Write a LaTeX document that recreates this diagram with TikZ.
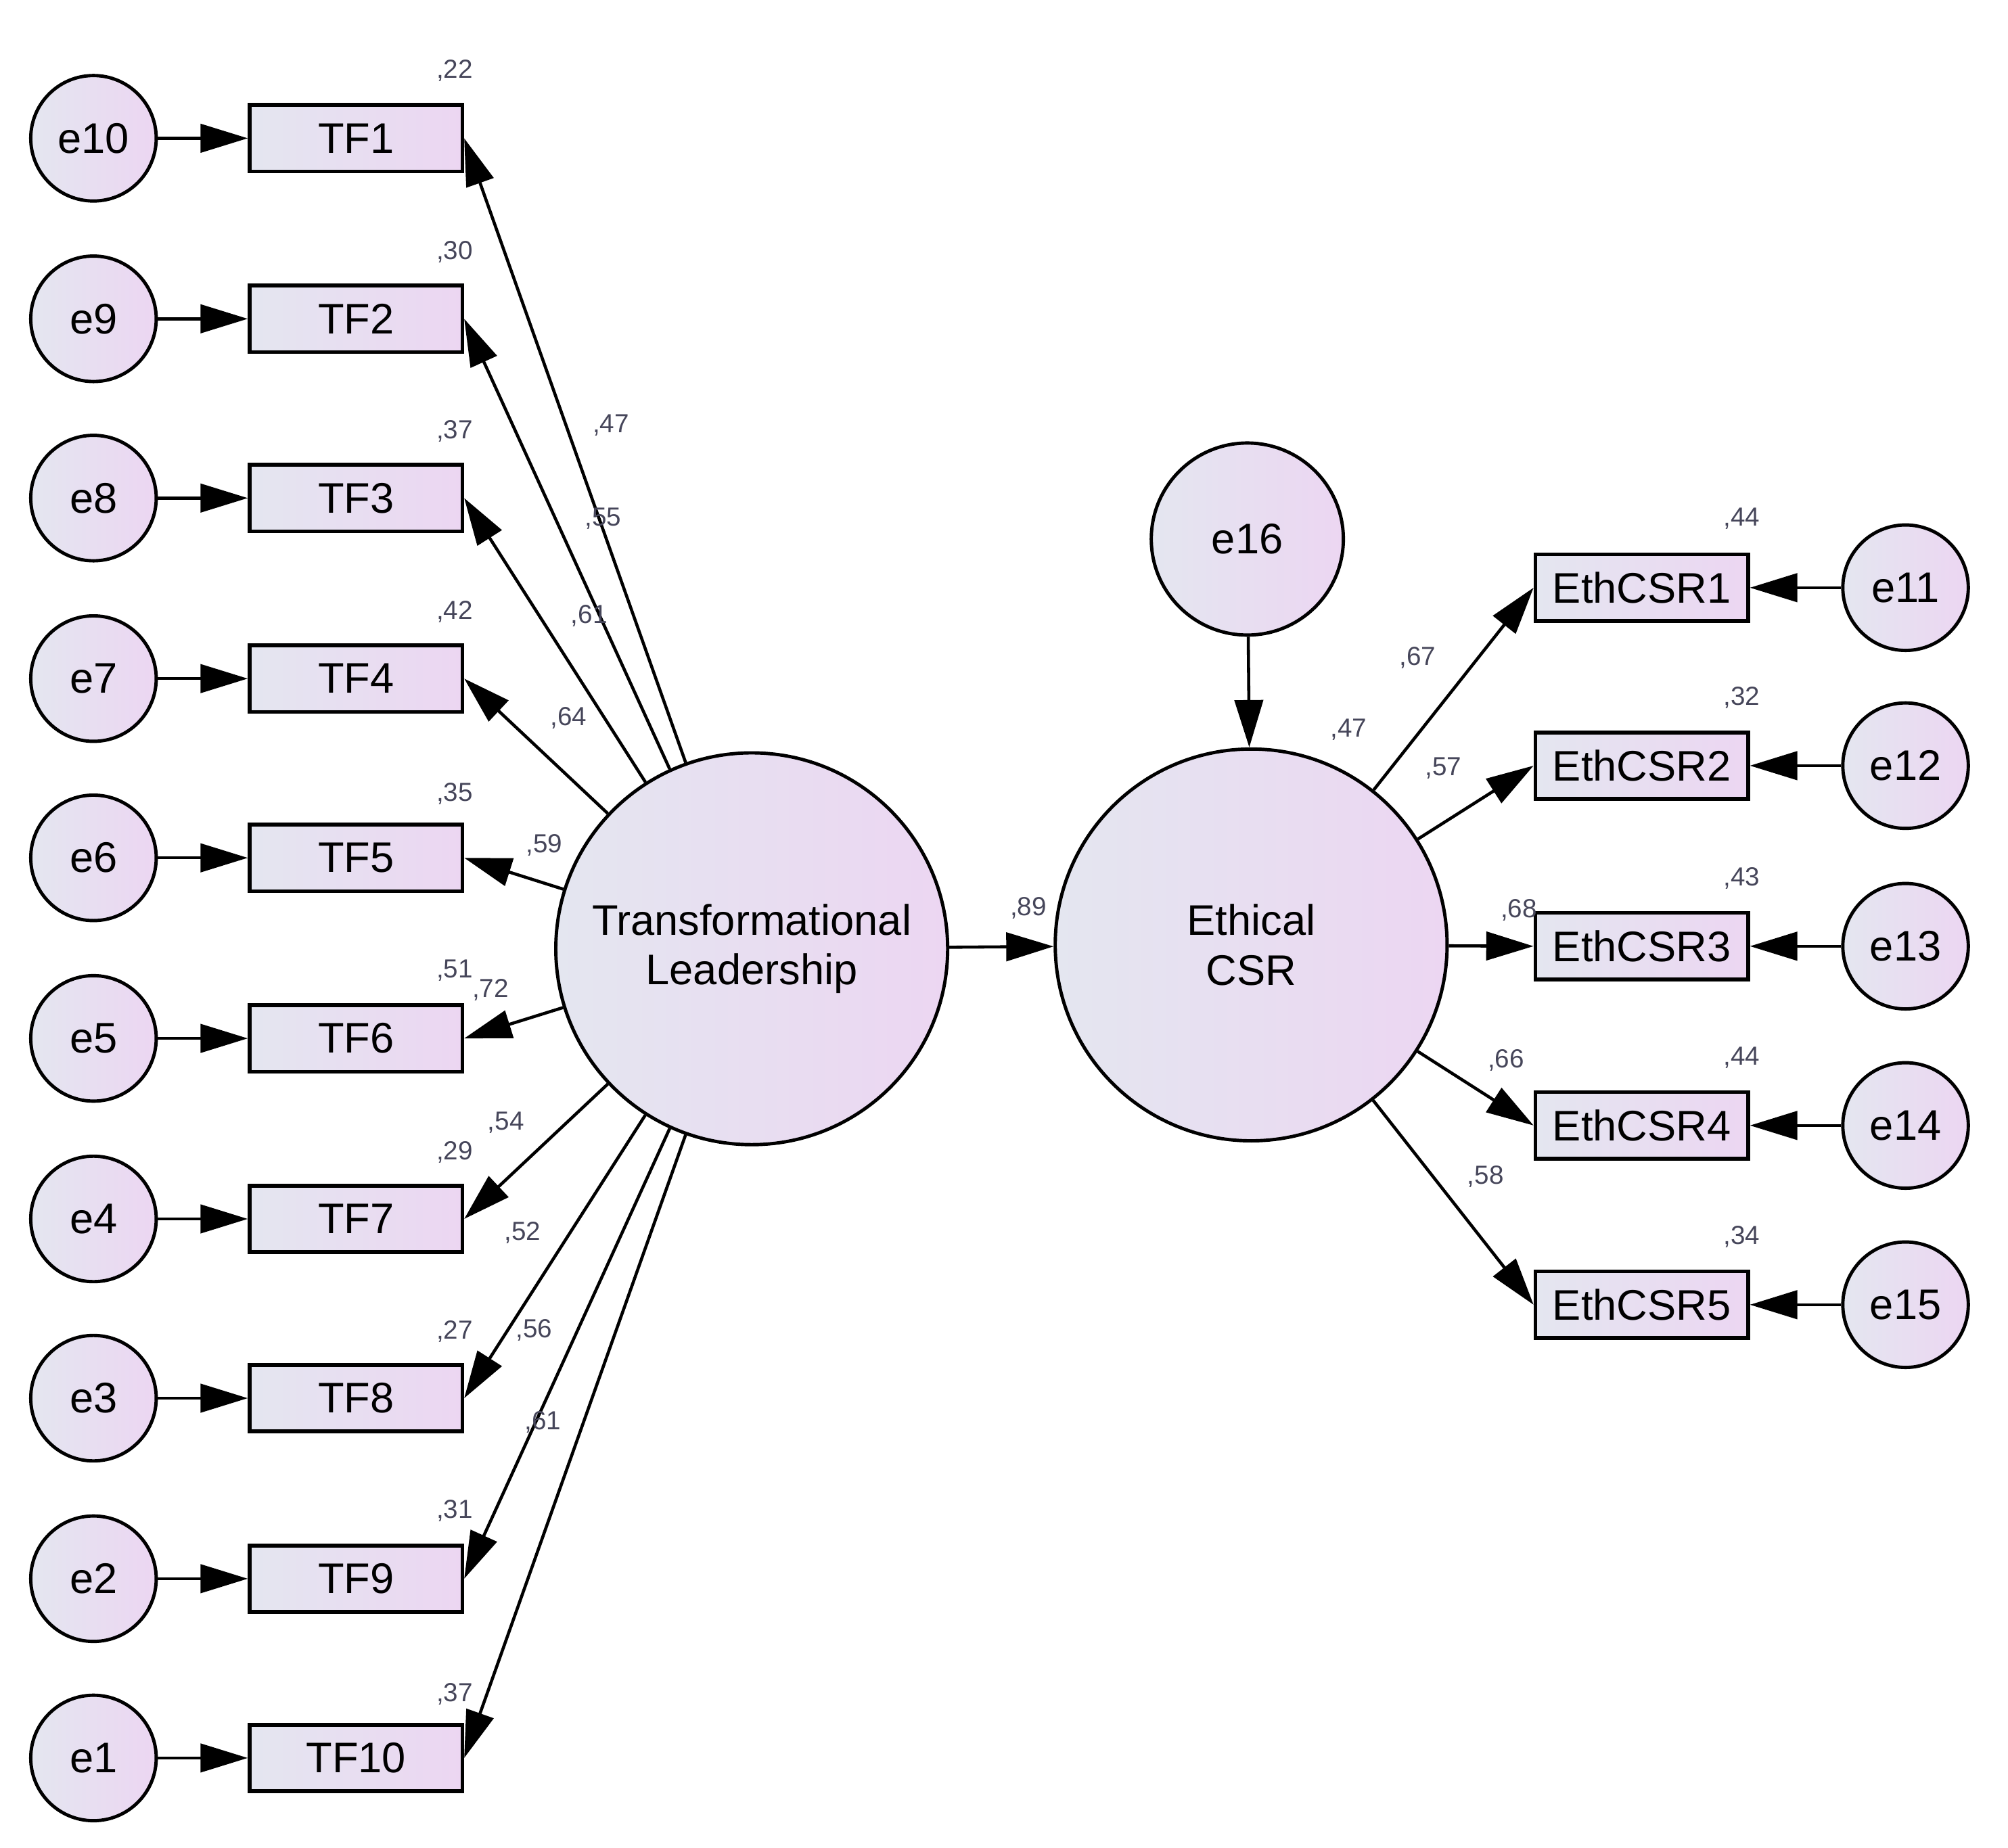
\documentclass[tikz,border=0pt]{standalone}
\usepackage{fontspec}
\setmainfont{Liberation Sans}
\usetikzlibrary{arrows.meta}
\definecolor{gl}{RGB}{228,230,240}
\definecolor{gr}{RGB}{236,214,242}
\definecolor{lab}{RGB}{70,70,90}
\begin{document}
\begin{tikzpicture}[x=0.01893cm,y=-0.01893cm,
  lat/.style={circle,draw,line width=1.4pt,left color=gl,right color=gr,inner sep=0pt,align=center,font=\fontsize{18}{21}\selectfont},
  err/.style={circle,draw,line width=1.4pt,left color=gl,right color=gr,minimum size=98*0.01893cm,inner sep=0pt,font=\fontsize{18}{21}\selectfont},
  box/.style={draw,line width=1.6pt,left color=gl,right color=gr,minimum width=166*0.01893cm,minimum height=52*0.01893cm,inner sep=0pt,font=\fontsize{18}{21}\selectfont},
  arr/.style={-{Triangle[length=0.7cm,width=0.42cm]},line width=1.3pt},
  lb/.style={font=\fontsize{11}{12}\selectfont,text=lab,inner sep=0pt}]
\useasboundingbox (0,0) rectangle (1568,1443);
\node[lat,minimum size=306*0.01893cm] (TL) at (587,741) {Transformational\\Leadership};
\node[lat,minimum size=306*0.01893cm] (EC) at (977,738) {Ethical\\CSR};
\node[err,minimum size=150*0.01893cm] (e16) at (974,421) {e16};
\foreach \i/\y/\e/\r/\rv/\l/\lx/\ly in {1/108/10/55/22/47/477/332, 2/249/9/197/30/55/471/405, 3/389/8/337/37/61/460/481, 4/530/7/478/42/64/444/561, 5/670/6/620/35/59/425/660, 6/811/5/758/51/72/383/773, 7/952/4/900/29/54/395/877, 8/1092/3/1040/27/52/408/963, 9/1233/2/1180/31/56/417/1039, 10/1373/1/1323/37/61/424/1111}{
  \node[err] (e\e) at (73,\y) {e\e};
  \node[box] (TF\i) at (278,\y) {TF\i};
  \draw[arr] (e\e) -- (TF\i.west);
  \draw[arr] (TL) -- (TF\i.east);
  \node[lb] (r\i) at (355,\r) {,\rv};
  \node[lb] (l\i) at (\lx,\ly) {,\l};
}
\foreach \i/\y/\e/\r/\rv/\l/\lx/\ly in {1/459/11/405/44/67/1107/514, 2/598/12/545/32/57/1127/600, 3/739/13/686/43/68/1186/711, 4/879/14/826/44/66/1176/828, 5/1019/15/966/34/58/1160/919}{
  \node[err] (e\e) at (1488,\y) {e\e};
  \node[box] (EC\i) at (1282,\y) {EthCSR\i};
  \draw[arr] (e\e) -- (EC\i.east);
  \node[lb] (er\i) at (1360,\r) {,\rv};
  \node[lb] (el\i) at (\lx,\ly) {,\l};
}
\draw[arr] (TL) -- (EC);
\draw[arr] (EC) -- (EC1.west);
\draw[arr] (EC) -- (EC2.west);
\draw[arr] (EC) -- (EC3.west);
\draw[arr] (EC) -- (EC4.west);
\draw[arr] (EC) -- (EC5.west);
\draw[arr] (e16) -- (EC);
\node[lb] (b89) at (803,709) {,89};
\node[lb] (r16) at (1053,570) {,47};
\end{tikzpicture}
\end{document}
